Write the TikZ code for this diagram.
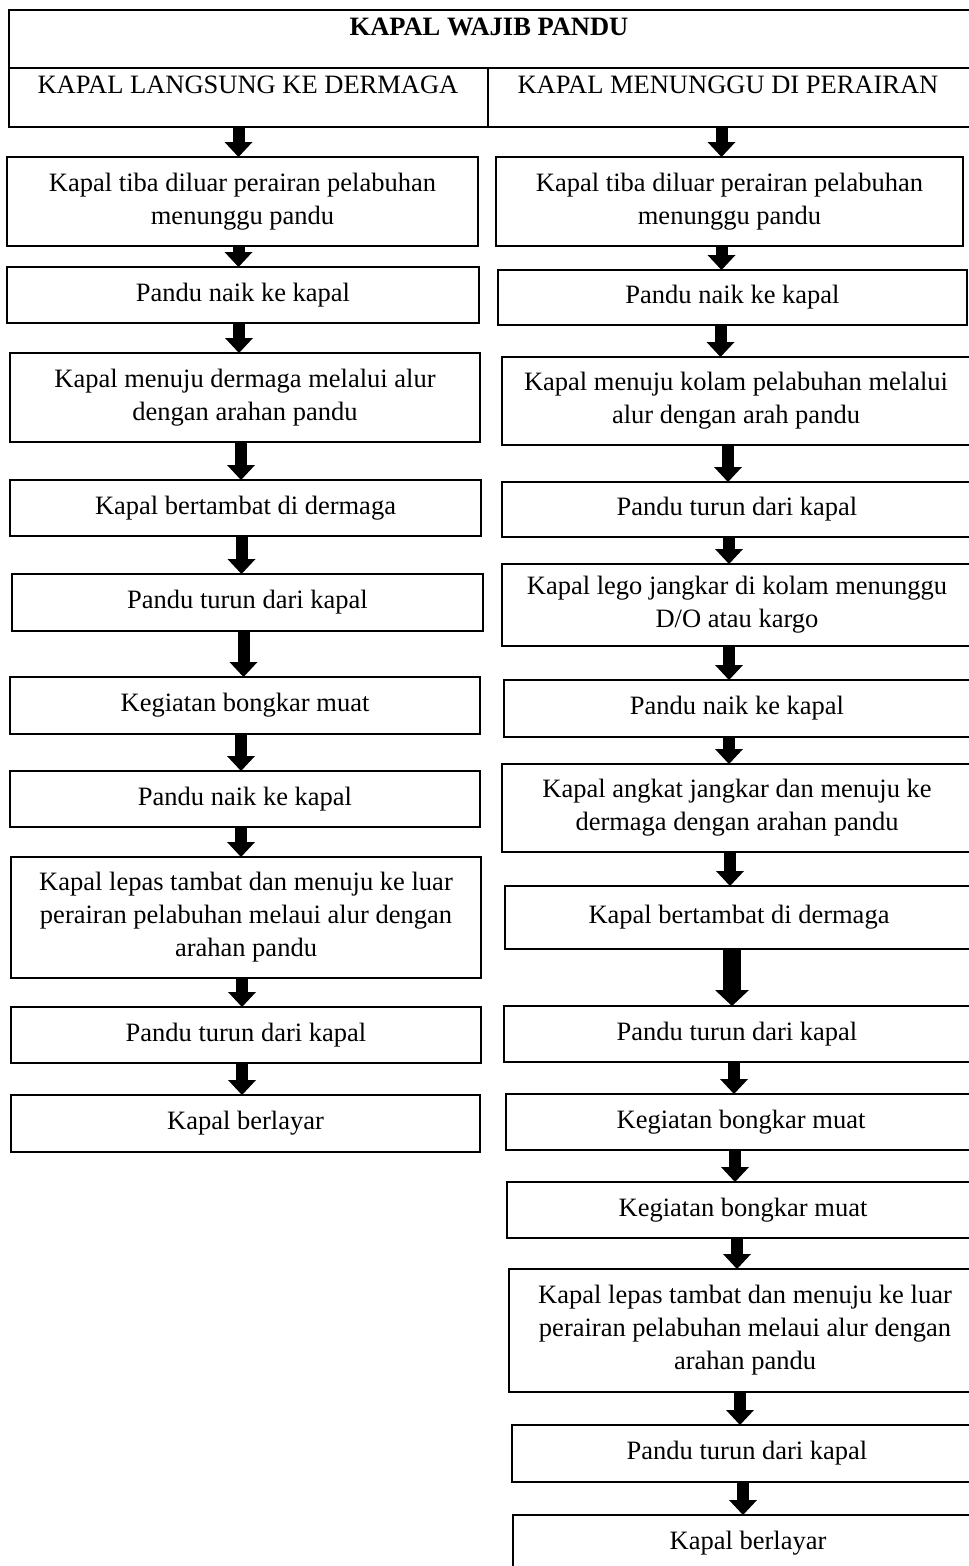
\documentclass[tikz,border=0pt]{standalone}
\usepackage{fontspec}
\setmainfont{Liberation Serif}
\usetikzlibrary{arrows.meta}

\begin{document}
\begin{tikzpicture}[x=1pt,y=-1pt,
    boite/.style={draw,line width=1.8pt,inner sep=0pt,outer sep=0pt,align=center,font=\fontsize{26.5}{33}\selectfont},
    cellule/.style={draw,line width=1.8pt,inner sep=0pt,outer sep=0pt},
    titre/.style={anchor=base,inner sep=0pt,font=\fontsize{26.5}{33}\selectfont},
    fleche/.style={line width=12pt,-{Triangle[width=28pt,length=15pt,line width=0pt]}},
    flecheLarge/.style={line width=18pt,-{Triangle[width=34pt,length=16pt,line width=0pt]}}]

    \useasboundingbox (0,0) rectangle (969,1566);
    \clip (0,0) rectangle (969,1566);

    % Dessine le tableau
    \node[cellule,minimum width=961pt,minimum height=58pt] (judul) at (489.5,39) {};
    \node[cellule,minimum width=479pt,minimum height=59pt] (kolKiri) at (248.5,97.5) {};
    \node[cellule,minimum width=482pt,minimum height=59pt] (kolKanan) at (729,97.5) {};
    \node[titre,font=\fontsize{26.5}{33}\selectfont\bfseries] (tJudul) at (489,35) {KAPAL WAJIB PANDU};
    \node[titre] (tKiri) at (248,93) {KAPAL LANGSUNG KE DERMAGA};
    \node[titre] (tKanan) at (728,93) {KAPAL MENUNGGU DI PERAIRAN};

    % Dessine la colonne de gauche
    \node[boite,minimum width=471pt,minimum height=89pt] (L1) at (242.5,201.5) {Kapal tiba diluar perairan pelabuhan\\menunggu pandu};
    \node[boite,minimum width=472pt,minimum height=56pt] (L2) at (243,295) {Pandu naik ke kapal};
    \node[boite,minimum width=470pt,minimum height=89pt] (L3) at (245,397.5) {Kapal menuju dermaga melalui alur\\dengan arahan pandu};
    \node[boite,minimum width=471pt,minimum height=56pt] (L4) at (245.5,508) {Kapal bertambat di dermaga};
    \node[boite,minimum width=471pt,minimum height=57pt] (L5) at (247.5,602.5) {Pandu turun dari kapal};
    \node[boite,minimum width=470pt,minimum height=57pt] (L6) at (245,705.5) {Kegiatan bongkar muat};
    \node[boite,minimum width=470pt,minimum height=56pt] (L7) at (245,799) {Pandu naik ke kapal};
    \node[boite,minimum width=470pt,minimum height=121pt] (L8) at (246,917.5) {Kapal lepas tambat dan menuju ke luar\\perairan pelabuhan melaui alur dengan\\arahan pandu};
    \node[boite,minimum width=470pt,minimum height=56pt] (L9) at (246,1035) {Pandu turun dari kapal};
    \node[boite,minimum width=469pt,minimum height=57pt] (L10) at (245.5,1123.5) {Kapal berlayar};

    % Dessine la colonne de droite
    \node[boite,minimum width=467pt,minimum height=89pt] (R1) at (729.5,201.5) {Kapal tiba diluar perairan pelabuhan\\menunggu pandu};
    \node[boite,minimum width=469pt,minimum height=55pt] (R2) at (732.5,297.5) {Pandu naik ke kapal};
    \node[boite,minimum width=468pt,minimum height=88pt] (R3) at (736,401) {Kapal menuju kolam pelabuhan melalui\\alur dengan arah pandu};
    \node[boite,minimum width=470pt,minimum height=55pt] (R4) at (737,509.5) {Pandu turun dari kapal};
    \node[boite,minimum width=470pt,minimum height=82pt] (R5) at (737,605) {Kapal lego jangkar di kolam menunggu\\D/O atau kargo};
    \node[boite,minimum width=466pt,minimum height=57pt] (R6) at (737,708.5) {Pandu naik ke kapal};
    \node[boite,minimum width=470pt,minimum height=88pt] (R7) at (737,808) {Kapal angkat jangkar dan menuju ke\\dermaga dengan arahan pandu};
    \node[boite,minimum width=468pt,minimum height=63pt] (R8) at (739,917.5) {Kapal bertambat di dermaga};
    \node[boite,minimum width=466pt,minimum height=56pt] (R9) at (737,1034) {Pandu turun dari kapal};
    \node[boite,minimum width=470pt,minimum height=56pt] (R10) at (741,1122) {Kegiatan bongkar muat};
    \node[boite,minimum width=472pt,minimum height=56pt] (R11) at (743,1210) {Kegiatan bongkar muat};
    \node[boite,minimum width=472pt,minimum height=123pt] (R12) at (745,1330.5) {Kapal lepas tambat dan menuju ke luar\\perairan pelabuhan melaui alur dengan\\arahan pandu};
    \node[boite,minimum width=470pt,minimum height=57pt] (R13) at (747,1453.5) {Pandu turun dari kapal};
    \node[boite,minimum width=470pt,minimum height=57pt] (R14) at (748,1543.5) {Kapal berlayar};

    % Dessine les flèches
    \draw[fleche] ([xshift=-4pt]L1.north |- kolKiri.south) -- ([xshift=-4pt]L1.north);
    \draw[fleche] ([xshift=-4pt]L1.south) -- ([xshift=-4pt]L1.south |- L2.north);
    \draw[fleche] ([xshift=-4pt]L2.south) -- ([xshift=-4pt]L2.south |- L3.north);
    \draw[fleche] ([xshift=-4pt]L3.south) -- ([xshift=-4pt]L3.south |- L4.north);
    \draw[fleche] ([xshift=-4pt]L4.south) -- ([xshift=-4pt]L4.south |- L5.north);
    \draw[fleche] ([xshift=-4pt]L5.south) -- ([xshift=-4pt]L5.south |- L6.north);
    \draw[fleche] ([xshift=-4pt]L6.south) -- ([xshift=-4pt]L6.south |- L7.north);
    \draw[fleche] ([xshift=-4pt]L7.south) -- ([xshift=-4pt]L7.south |- L8.north);
    \draw[fleche] ([xshift=-4pt]L8.south) -- ([xshift=-4pt]L8.south |- L9.north);
    \draw[fleche] ([xshift=-4pt]L9.south) -- ([xshift=-4pt]L9.south |- L10.north);

    \draw[fleche] ([xshift=-8pt]R1.north |- kolKanan.south) -- ([xshift=-8pt]R1.north);
    \draw[fleche] ([xshift=-8pt]R1.south) -- ([xshift=-8pt]R1.south |- R2.north);
    \draw[fleche] ([xshift=-12pt]R2.south) -- ([xshift=-12pt]R2.south |- R3.north);
    \draw[fleche] ([xshift=-8pt]R3.south) -- ([xshift=-8pt]R3.south |- R4.north);
    \draw[fleche] ([xshift=-8pt]R4.south) -- ([xshift=-8pt]R4.south |- R5.north);
    \draw[fleche] ([xshift=-8pt]R5.south) -- ([xshift=-8pt]R5.south |- R6.north);
    \draw[fleche] ([xshift=-8pt]R6.south) -- ([xshift=-8pt]R6.south |- R7.north);
    \draw[fleche] ([xshift=-7pt]R7.south) -- ([xshift=-7pt]R7.south |- R8.north);
    \draw[flecheLarge] ([xshift=-7pt]R8.south) -- ([xshift=-7pt]R8.south |- R9.north);
    \draw[fleche] ([xshift=-3pt]R9.south) -- ([xshift=-3pt]R9.south |- R10.north);
    \draw[fleche] ([xshift=-6pt]R10.south) -- ([xshift=-6pt]R10.south |- R11.north);
    \draw[fleche] ([xshift=-6pt]R11.south) -- ([xshift=-6pt]R11.south |- R12.north);
    \draw[fleche] ([xshift=-5pt]R12.south) -- ([xshift=-5pt]R12.south |- R13.north);
    \draw[fleche] ([xshift=-4pt]R13.south) -- ([xshift=-4pt]R13.south |- R14.north);

\end{tikzpicture}
\end{document}
